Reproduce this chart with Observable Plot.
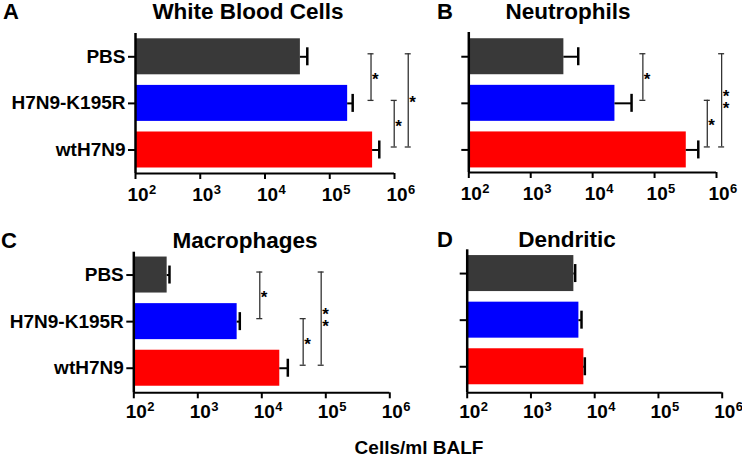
<!DOCTYPE html>
<html>
<head>
<meta charset="utf-8">
<script src="https://cdn.jsdelivr.net/npm/d3@7"></script>
<script src="https://cdn.jsdelivr.net/npm/@observablehq/plot@0.6"></script>
<style>
  html, body { margin: 0; padding: 0; background: #fff; }
  #wrap { position: relative; width: 742px; height: 458px; overflow: hidden; background: #fff;
          font-family: "Liberation Sans", Arial, sans-serif; }
  #wrap > svg { position: absolute; }
</style>
</head>
<body>
<div id="wrap"></div>
<script>
// ---------- data ----------
const categories = ["PBS", "H7N9-K195R", "wtH7N9"];
const barColors = ["#393939", "#0000ff", "#ff0000"];
const panelTitles = ["White Blood Cells", "Neutrophils", "Macrophages", "Dendritic"];
const panelLetters = ["A", "B", "C", "D"];
const xAxisTitle = "Cells/ml BALF";
const tickExponents = [2, 3, 4, 5, 6];

const wbcMean = [35200, 189000, 459000];
const wbcUpper = [45000, 226000, 582000];
const neuMean = [3430, 22900, 325000];
const neuUpper = [5850, 42500, 508000];
const macMean = [332, 4120, 19100];
const macUpper = [361, 4530, 25500];
const denMean = [4710, 5650, 6760];
const denUpper = [4940, 6210, 7000];

// significance brackets: [from group, to group, x position (cells/ml), label]
const wbcSig = [[0, 1, 434000, "*"], [1, 2, 990000, "*"], [0, 2, 1630000, "*"]];
const neuSig = [[0, 1, 64700, "*"], [1, 2, 710000, "*"], [0, 2, 1210000, "*\n*"]];
const macSig = [[0, 1, 9300, "*"], [1, 2, 44300, "*"], [0, 2, 84700, "*\n*"]];
const denSig = [];

// ---------- layout ----------
const FONT = "Liberation Sans, Arial, Helvetica, sans-serif";
const panels = [
  {mean: wbcMean, upper: wbcUpper, sig: wbcSig, labels: true,
   ox: 0, oy: 0, w: 440, h: 215, left: 135, right: 394, top: 33, bottom: 173, y0: -0.5, tickDy: 27},
  {mean: neuMean, upper: neuUpper, sig: neuSig, labels: false,
   ox: 440, oy: 0, w: 302, h: 215, left: 468.3, right: 716, top: 32, bottom: 172, y0: -0.52, tickDy: 27},
  {mean: macMean, upper: macUpper, sig: macSig, labels: true,
   ox: 0, oy: 220, w: 440, h: 215, left: 133.3, right: 389.3, top: 251.7, bottom: 392.3, y0: -0.49, tickDy: 25.5},
  {mean: denMean, upper: denUpper, sig: denSig, labels: false,
   ox: 440, oy: 220, w: 302, h: 215, left: 466.7, right: 721.7, top: 249.3, bottom: 392.3, y0: -0.51, tickDy: 25.5}
];

const titleLayout = [
  {letterX: 3, titleX: 248, y: 19},
  {letterX: 437, titleX: 568, y: 18.5},
  {letterX: 1, titleX: 245, y: 248},
  {letterX: 437, titleX: 567, y: 246.5}
];

function makePanel(cfg) {
  const rows = categories.map((c, i) => ({i, cat: c, mean: cfg.mean[i], upper: cfg.upper[i], color: barColors[i]}));
  const sig = cfg.sig.map(([a, b, x, label]) => ({a, b, x, label, mid: (a + b) / 2}));
  const ends = sig.flatMap(s => [{x: s.x, y: s.a}, {x: s.x, y: s.b}]);
  const span = (cfg.bottom - cfg.top);
  const step = 46.6;
  const y1 = cfg.y0 + span / step;
  const half = 18 / step;
  return Plot.plot({
    width: cfg.w,
    height: cfg.h,
    marginLeft: cfg.left - cfg.ox,
    marginRight: cfg.w - (cfg.right - cfg.ox),
    marginTop: cfg.top - cfg.oy,
    marginBottom: cfg.h - (cfg.bottom - cfg.oy),
    x: {type: "log", domain: [1e2, 1e6]},
    y: {domain: [cfg.y0, y1], reverse: true},
    color: {type: "identity"},
    style: {fontFamily: FONT, background: "transparent", overflow: "visible", color: "#000"},
    marks: [
      Plot.rect(rows, {x1: () => 1e2, x2: "mean", y1: d => d.i - half, y2: d => d.i + half, fill: "color"}),
      Plot.ruleY(rows, {y: "i", x1: "mean", x2: "upper", stroke: "#000", strokeWidth: 2}),
      Plot.ruleX(rows, {x: "upper", y1: "i", y2: "i", insetTop: -9, insetBottom: -9, stroke: "#000", strokeWidth: 2.5}),
      Plot.ruleX(sig, {x: "x", y1: "a", y2: "b", dy: -3, stroke: "#333", strokeWidth: 1.3}),
      Plot.ruleY(ends, {y: "y", x1: "x", x2: "x", insetLeft: -3, insetRight: -3, dy: -3, stroke: "#333", strokeWidth: 1.3}),
      Plot.text(sig, {x: "x", y: "mid", text: "label", textAnchor: "start", lineAnchor: "middle",
                      dx: 1, dy: 1, lineHeight: 0.7, fontSize: 17, fontWeight: "bold", fill: "#000"}),
      Plot.ruleX([1e2], {stroke: "#000", strokeWidth: 2.5}),
      Plot.ruleY([y1], {stroke: "#000", strokeWidth: 2}),
      Plot.axisX(tickExponents.map(e => 10 ** e), {tickSize: 6, tickFormat: () => "", strokeWidth: 2, label: null}),
      Plot.text(tickExponents, {x: e => 10 ** e, text: () => "10", frameAnchor: "bottom", lineAnchor: "bottom",
                                dy: cfg.tickDy, dx: -8, textAnchor: "start", fontSize: 19, fontWeight: "bold", fill: "#000"}),
      Plot.text(tickExponents, {x: e => 10 ** e, text: e => String(e), frameAnchor: "bottom", lineAnchor: "bottom",
                                dy: cfg.tickDy - 7, dx: 13.5, textAnchor: "start", fontSize: 13, fontWeight: "bold", fill: "#000"}),
      Plot.axisY([0, 1, 2], {tickSize: 7, tickPadding: 3, tickFormat: i => cfg.labels ? categories[i] : "",
                             fontSize: 19, fontWeight: "bold", strokeWidth: 2, label: null})
    ]
  });
}

const wrap = document.getElementById("wrap");
panels.forEach(cfg => {
  const svg = makePanel(cfg);
  svg.style.left = cfg.ox + "px";
  svg.style.top = cfg.oy + "px";
  svg.style.maxWidth = "none";
  wrap.appendChild(svg);
});

// titles, letters, axis title overlay
const overlay = d3.select(wrap).append("svg")
  .attr("width", 742).attr("height", 458)
  .style("left", "0px").style("top", "0px")
  .style("font-family", FONT).style("font-weight", "bold");
titleLayout.forEach((t, k) => {
  overlay.append("text").attr("x", t.letterX).attr("y", t.y)
    .attr("font-size", 22).text(panelLetters[k]);
  overlay.append("text").attr("x", t.titleX).attr("y", t.y)
    .attr("font-size", 22.5).attr("text-anchor", "middle").text(panelTitles[k]);
});
overlay.append("text").attr("x", 419).attr("y", 453.5)
  .attr("font-size", 19).attr("text-anchor", "middle").text(xAxisTitle);
</script>
</body>
</html>
